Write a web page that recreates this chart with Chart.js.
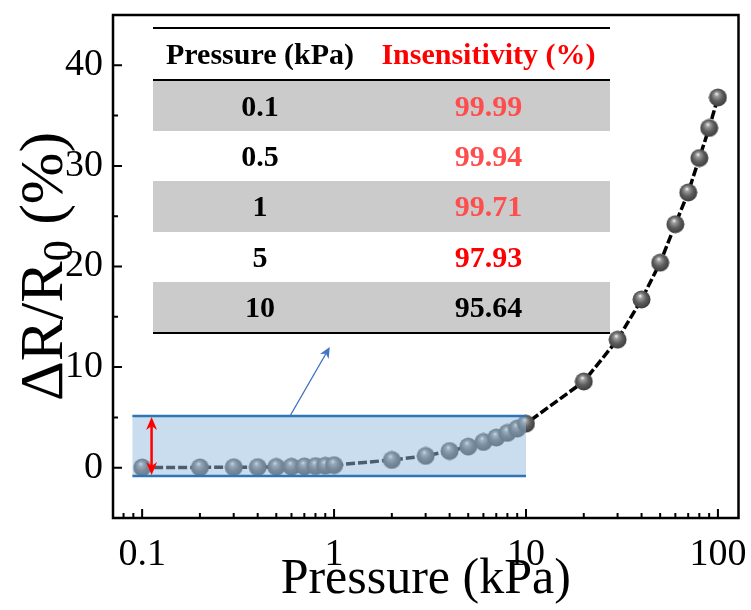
<!DOCTYPE html>
<html>
<head>
<meta charset="utf-8">
<script src="https://cdn.jsdelivr.net/npm/chart.js@4.4.1/dist/chart.umd.min.js"></script>
<style>
  html, body { margin: 0; padding: 0; background: #fff; }
  #wrap { position: relative; width: 751px; height: 610px; }
  #summary {
    position: absolute; left: 153px; top: 27px; width: 457px;
    border-collapse: collapse;
    font-family: 'Liberation Serif', 'Times New Roman', serif;
    font-weight: bold; font-size: 30px; text-align: center;
  }
  #summary th, #summary td { padding: 0; line-height: 1; }
  #summary thead tr { height: 52px; border-top: 2px solid #000; border-bottom: 2px solid #000; }
  #summary tbody tr { height: 50.5px; }
  #summary tbody tr:nth-child(odd) { background: #cbcbcb; }
  #summary tbody tr:last-child { border-bottom: 2px solid #000; }
  #summary .c1 { width: 214px; }
</style>
</head>
<body>
<div id="wrap">
  <canvas id="curve" width="751" height="610"></canvas>
  <table id="summary">
    <thead><tr><th class="c1">Pressure (kPa)</th><th id="sensHead" style="color:#ff0000">Insensitivity (%)</th></tr></thead>
    <tbody id="summaryBody"></tbody>
  </table>
</div>
<script>
// measured response, dR/R0 (%) against applied pressure (kPa)
const pressure = [0.1, 0.2, 0.3, 0.4, 0.5, 0.6, 0.7, 0.8, 0.9, 1,
                  2, 3, 4, 5, 6, 7, 8, 9, 10,
                  20, 30, 40, 50, 60, 70, 80, 90, 100];
const response = [0.02, 0.03, 0.05, 0.06, 0.08, 0.1, 0.13, 0.16, 0.2, 0.25,
                  0.77, 1.17, 1.66, 2.1, 2.56, 3.0, 3.46, 3.89, 4.38,
                  8.57, 12.73, 16.72, 20.38, 24.2, 27.36, 30.78, 33.77, 36.8];

const xTickValues = [0.1, 1, 10, 100];
const xTickLabels = ['0.1', '1', '10', '100'];
const yTickValues = [0, 10, 20, 30, 40];
const yMinorTicks = [5, 15, 25, 35];

// inset table
const tablePressure = ['0.1', '0.5', '1', '5', '10'];
const tableInsensitivity = ['99.99', '99.94', '99.71', '97.93', '95.64'];
const tableColors = ['#ff4d4d', '#ff4d4d', '#ff4d4d', '#ff0000', '#000000'];

// highlighted low-pressure window (data units)
const zoomBox = { x0: 0.089, x1: 10, y0: -0.83, y1: 5.15 };
const spanArrowX = 0.112;
const calloutFrom = { x: 0.59, y: 5.15 };
const calloutTo = { x: 0.95, y: 12.0 };

const body = document.getElementById('summaryBody');
tablePressure.forEach((p, i) => {
  const tr = document.createElement('tr');
  tr.innerHTML = '<td class="c1">' + p + '</td><td style="color:' + tableColors[i] + '">' + tableInsensitivity[i] + '</td>';
  body.appendChild(tr);
});

// shaded ball marker
function makeBall(r) {
  const c = document.createElement('canvas');
  c.width = c.height = r * 2 + 1;
  const g = c.getContext('2d');
  const grad = g.createRadialGradient(r * 0.9, r * 0.65, 0.5, r, r, r * 1.1);
  grad.addColorStop(0, '#e8e8e8');
  grad.addColorStop(0.18, '#9c9c9c');
  grad.addColorStop(0.55, '#5e5e5e');
  grad.addColorStop(1, '#3a3a3a');
  g.fillStyle = grad;
  g.beginPath();
  g.arc(r + 0.5, r + 0.5, r, 0, Math.PI * 2);
  g.fill();
  return c;
}
const ball = makeBall(9);

const serif = "'Liberation Serif', 'Times New Roman', serif";

function arrowHead(ctx, x, y, ang, len, wid) {
  ctx.save();
  ctx.translate(x, y);
  ctx.rotate(ang);
  ctx.beginPath();
  ctx.moveTo(0, 0);
  ctx.lineTo(-len, -wid / 2);
  ctx.lineTo(-len * 0.7, 0);
  ctx.lineTo(-len, wid / 2);
  ctx.closePath();
  ctx.fill();
  ctx.restore();
}

const decorations = {
  id: 'decorations',
  afterDatasetsDraw(chart) {
    const ctx = chart.ctx;
    const xs = chart.scales.x, ys = chart.scales.y;
    const bx0 = xs.getPixelForValue(zoomBox.x0), bx1 = xs.getPixelForValue(zoomBox.x1);
    const by0 = ys.getPixelForValue(zoomBox.y0), by1 = ys.getPixelForValue(zoomBox.y1);
    ctx.save();
    ctx.fillStyle = 'rgba(150, 188, 222, 0.5)';
    ctx.fillRect(bx0, by1, bx1 - bx0, by0 - by1);
    ctx.strokeStyle = '#2e75b6';
    ctx.lineWidth = 2.5;
    ctx.beginPath();
    ctx.moveTo(bx0, by1); ctx.lineTo(bx1, by1);
    ctx.moveTo(bx0, by0); ctx.lineTo(bx1, by0);
    ctx.stroke();

    // red span arrow
    const ax = xs.getPixelForValue(spanArrowX);
    ctx.strokeStyle = '#ff0000';
    ctx.fillStyle = '#ff0000';
    ctx.lineWidth = 2.5;
    ctx.beginPath();
    ctx.moveTo(ax, by1 + 8); ctx.lineTo(ax, by0 - 8);
    ctx.stroke();
    arrowHead(ctx, ax, by1 + 1, -Math.PI / 2, 13, 11);
    arrowHead(ctx, ax, by0 - 1, Math.PI / 2, 13, 11);

    // blue callout arrow
    const fx = xs.getPixelForValue(calloutFrom.x), fy = ys.getPixelForValue(calloutFrom.y);
    const tx = xs.getPixelForValue(calloutTo.x), ty = ys.getPixelForValue(calloutTo.y);
    const ang = Math.atan2(ty - fy, tx - fx);
    ctx.strokeStyle = '#4472c4';
    ctx.fillStyle = '#4472c4';
    ctx.lineWidth = 1.2;
    ctx.beginPath();
    ctx.moveTo(fx, fy);
    ctx.lineTo(tx - Math.cos(ang) * 8, ty - Math.sin(ang) * 8);
    ctx.stroke();
    arrowHead(ctx, tx, ty, ang, 11, 10);
    ctx.restore();
  },
  afterDraw(chart) {
    const ctx = chart.ctx;
    const a = chart.chartArea;
    const xs = chart.scales.x, ys = chart.scales.y;
    ctx.save();
    ctx.strokeStyle = '#000';
    ctx.lineWidth = 2.5;
    ctx.strokeRect(a.left, a.top, a.right - a.left, a.bottom - a.top);

    // inward ticks
    ctx.lineWidth = 2;
    ctx.beginPath();
    for (let e = -2; e <= 2; e++) {
      for (let m = 1; m <= 9; m++) {
        const v = m * Math.pow(10, e);
        const px = xs.getPixelForValue(v);
        if (px <= a.left + 1 || px >= a.right - 1) continue;
        const len = m === 1 ? 9 : 5;
        ctx.moveTo(px, a.bottom); ctx.lineTo(px, a.bottom - len);
      }
    }
    yTickValues.forEach(v => {
      const py = ys.getPixelForValue(v);
      ctx.moveTo(a.left, py); ctx.lineTo(a.left + 9, py);
    });
    yMinorTicks.forEach(v => {
      const py = ys.getPixelForValue(v);
      ctx.moveTo(a.left, py); ctx.lineTo(a.left + 5, py);
    });
    ctx.stroke();

    // y title with subscript
    ctx.fillStyle = '#000';
    ctx.translate(46, (a.top + a.bottom) / 2);
    ctx.rotate(-Math.PI / 2);
    const big = '62px ' + serif, small = '42px ' + serif;
    ctx.font = big;
    const w1 = ctx.measureText('\u0394R/R').width;
    const w3 = ctx.measureText(' (%)').width;
    ctx.font = small;
    const w2 = ctx.measureText('0').width;
    let x = -(w1 + w2 + w3) / 2;
    ctx.textBaseline = 'middle';
    ctx.font = big;
    ctx.fillText('\u0394R/R', x, 0);
    x += w1;
    ctx.font = small;
    ctx.fillText('0', x, 15);
    x += w2;
    ctx.font = big;
    ctx.fillText(' (%)', x, 0);
    ctx.restore();
  }
};

new Chart(document.getElementById('curve').getContext('2d'), {
  type: 'scatter',
  data: {
    datasets: [{
      data: pressure.map((p, i) => ({ x: p, y: response[i] })),
      showLine: true,
      borderColor: '#000',
      borderWidth: 3.5,
      borderDash: [9, 3],
      pointStyle: ball,
      pointRadius: 9,
      pointHoverRadius: 9
    }]
  },
  options: {
    responsive: false,
    animation: false,
    events: [],
    layout: { padding: { top: 15, right: 12, left: 0, bottom: 0 } },
    plugins: { legend: { display: false }, tooltip: { enabled: false } },
    scales: {
      x: {
        type: 'logarithmic',
        min: 0.0705,
        max: 128,
        grid: { display: false },
        border: { display: false },
        afterBuildTicks: s => { s.ticks = xTickValues.map(v => ({ value: v, major: true })); },
        afterFit: s => { s.height = 92; s.paddingLeft = 0; s.paddingRight = 0; },
        ticks: {
          autoSkip: false,
          maxRotation: 0,
          padding: 6,
          color: '#000',
          font: { family: serif, size: 38 },
          callback: (v, i) => xTickLabels[i]
        },
        title: {
          display: true,
          text: 'Pressure (kPa)',
          color: '#000',
          font: { family: serif, size: 50 },
          padding: { top: 0, bottom: 0 }
        }
      },
      y: {
        min: -5,
        max: 45,
        grid: { display: false },
        border: { display: false },
        afterBuildTicks: s => { s.ticks = yTickValues.map(v => ({ value: v })); },
        afterFit: s => { s.width = 113; s.paddingTop = 0; s.paddingBottom = 0; },
        ticks: {
          padding: 2,
          color: '#000',
          font: { family: serif, size: 38 }
        }
      }
    }
  },
  plugins: [decorations]
});
</script>
</body>
</html>
